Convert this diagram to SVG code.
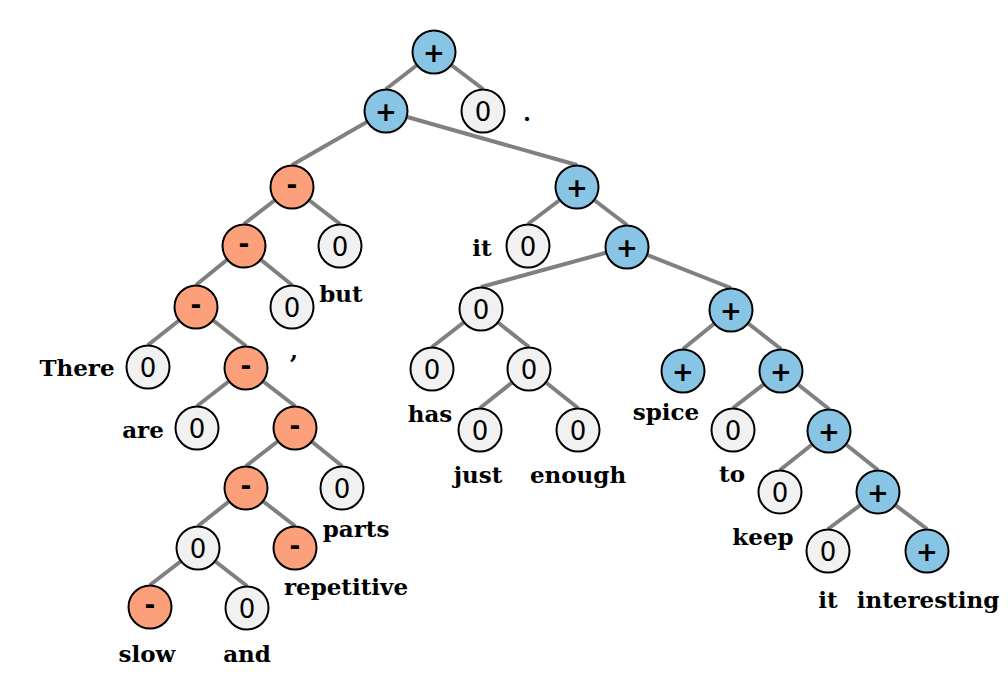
<svg xmlns="http://www.w3.org/2000/svg" width="1008" height="686" viewBox="0 0 1008 686">
<style>
.e{stroke:#808080;stroke-width:4;fill:none}
circle{stroke:#000;stroke-width:2}
.p circle{fill:#88c4e3}
.m circle{fill:#fba07b}
.z circle{fill:#f1f1f1}
.n{font-family:"DejaVu Sans",sans-serif;font-size:26px;text-anchor:middle;fill:#000}
.p .n,.m .n{font-weight:bold}
.w{font-family:"DejaVu Serif",serif;font-weight:bold;font-size:23px;text-anchor:middle;fill:#000}
</style>
<rect width="1008" height="686" fill="#fff"/>
<g id="edges">
<line class="e" x1="434" y1="52" x2="386" y2="89"/>
<line class="e" x1="434" y1="52" x2="483" y2="89"/>
<line class="e" x1="386" y1="111" x2="292" y2="165"/>
<line class="e" x1="386" y1="111" x2="577" y2="165"/>
<line class="e" x1="292" y1="187" x2="244" y2="224"/>
<line class="e" x1="292" y1="187" x2="340" y2="224"/>
<line class="e" x1="244" y1="246" x2="196" y2="285"/>
<line class="e" x1="244" y1="246" x2="292" y2="285"/>
<line class="e" x1="196" y1="307" x2="148" y2="345"/>
<line class="e" x1="196" y1="307" x2="246" y2="346"/>
<line class="e" x1="246" y1="368" x2="197" y2="406"/>
<line class="e" x1="246" y1="368" x2="295" y2="406"/>
<line class="e" x1="295" y1="428" x2="246" y2="466"/>
<line class="e" x1="295" y1="428" x2="342" y2="466"/>
<line class="e" x1="246" y1="488" x2="198" y2="526"/>
<line class="e" x1="246" y1="488" x2="295" y2="526"/>
<line class="e" x1="198" y1="548" x2="150" y2="585"/>
<line class="e" x1="198" y1="548" x2="247" y2="586"/>
<line class="e" x1="577" y1="187" x2="528" y2="224"/>
<line class="e" x1="577" y1="187" x2="627" y2="225"/>
<line class="e" x1="627" y1="247" x2="481" y2="287"/>
<line class="e" x1="627" y1="247" x2="731" y2="288"/>
<line class="e" x1="481" y1="309" x2="432" y2="347"/>
<line class="e" x1="481" y1="309" x2="529" y2="347"/>
<line class="e" x1="529" y1="369" x2="480" y2="408"/>
<line class="e" x1="529" y1="369" x2="578" y2="408"/>
<line class="e" x1="731" y1="310" x2="683" y2="349"/>
<line class="e" x1="731" y1="310" x2="781" y2="349"/>
<line class="e" x1="781" y1="371" x2="733" y2="408"/>
<line class="e" x1="781" y1="371" x2="829" y2="409"/>
<line class="e" x1="829" y1="431" x2="780" y2="470"/>
<line class="e" x1="829" y1="431" x2="878" y2="470"/>
<line class="e" x1="878" y1="492" x2="828" y2="529"/>
<line class="e" x1="878" y1="492" x2="927" y2="529"/>
</g>
<g id="n1" class="p"><circle cx="434" cy="52" r="21.5"/><text class="n" x="434" y="61.5">+</text></g>
<g id="n2" class="p"><circle cx="386" cy="111" r="21.5"/><text class="n" x="386" y="120.5">+</text></g>
<g id="n3" class="z"><circle cx="483" cy="111" r="21.5"/><text class="n" x="483" y="120.5">0</text></g>
<g id="n4" class="m"><circle cx="292" cy="187" r="21.5"/><text class="n" x="292" y="194">-</text></g>
<g id="n5" class="p"><circle cx="577" cy="187" r="21.5"/><text class="n" x="577" y="196.5">+</text></g>
<g id="n6" class="m"><circle cx="244" cy="246" r="21.5"/><text class="n" x="244" y="253">-</text></g>
<g id="n7" class="z"><circle cx="340" cy="246" r="21.5"/><text class="n" x="340" y="255.5">0</text></g>
<g id="n8" class="z"><circle cx="528" cy="246" r="21.5"/><text class="n" x="528" y="255.5">0</text></g>
<g id="n9" class="p"><circle cx="627" cy="247" r="21.5"/><text class="n" x="627" y="256.5">+</text></g>
<g id="n10" class="m"><circle cx="196" cy="307" r="21.5"/><text class="n" x="196" y="314">-</text></g>
<g id="n11" class="z"><circle cx="292" cy="307" r="21.5"/><text class="n" x="292" y="316.5">0</text></g>
<g id="n12" class="z"><circle cx="481" cy="309" r="21.5"/><text class="n" x="481" y="318.5">0</text></g>
<g id="n13" class="p"><circle cx="731" cy="310" r="21.5"/><text class="n" x="731" y="319.5">+</text></g>
<g id="n14" class="z"><circle cx="148" cy="367" r="21.5"/><text class="n" x="148" y="376.5">0</text></g>
<g id="n15" class="m"><circle cx="246" cy="368" r="21.5"/><text class="n" x="246" y="375">-</text></g>
<g id="n16" class="z"><circle cx="432" cy="369" r="21.5"/><text class="n" x="432" y="378.5">0</text></g>
<g id="n17" class="z"><circle cx="529" cy="369" r="21.5"/><text class="n" x="529" y="378.5">0</text></g>
<g id="n18" class="p"><circle cx="683" cy="371" r="21.5"/><text class="n" x="683" y="380.5">+</text></g>
<g id="n19" class="p"><circle cx="781" cy="371" r="21.5"/><text class="n" x="781" y="380.5">+</text></g>
<g id="n20" class="z"><circle cx="197" cy="428" r="21.5"/><text class="n" x="197" y="437.5">0</text></g>
<g id="n21" class="m"><circle cx="295" cy="428" r="21.5"/><text class="n" x="295" y="435">-</text></g>
<g id="n22" class="z"><circle cx="480" cy="430" r="21.5"/><text class="n" x="480" y="439.5">0</text></g>
<g id="n23" class="z"><circle cx="578" cy="430" r="21.5"/><text class="n" x="578" y="439.5">0</text></g>
<g id="n24" class="z"><circle cx="733" cy="430" r="21.5"/><text class="n" x="733" y="439.5">0</text></g>
<g id="n25" class="p"><circle cx="829" cy="431" r="21.5"/><text class="n" x="829" y="440.5">+</text></g>
<g id="n26" class="m"><circle cx="246" cy="488" r="21.5"/><text class="n" x="246" y="495">-</text></g>
<g id="n27" class="z"><circle cx="342" cy="488" r="21.5"/><text class="n" x="342" y="497.5">0</text></g>
<g id="n28" class="z"><circle cx="780" cy="492" r="21.5"/><text class="n" x="780" y="501.5">0</text></g>
<g id="n29" class="p"><circle cx="878" cy="492" r="21.5"/><text class="n" x="878" y="501.5">+</text></g>
<g id="n30" class="z"><circle cx="198" cy="548" r="21.5"/><text class="n" x="198" y="557.5">0</text></g>
<g id="n31" class="m"><circle cx="295" cy="548" r="21.5"/><text class="n" x="295" y="555">-</text></g>
<g id="n32" class="z"><circle cx="828" cy="551" r="21.5"/><text class="n" x="828" y="560.5">0</text></g>
<g id="n33" class="p"><circle cx="927" cy="551" r="21.5"/><text class="n" x="927" y="560.5">+</text></g>
<g id="n34" class="m"><circle cx="150" cy="607" r="21.5"/><text class="n" x="150" y="614">-</text></g>
<g id="n35" class="z"><circle cx="247" cy="608" r="21.5"/><text class="n" x="247" y="617.5">0</text></g>
<g id="labels">
<text class="w" x="527" y="121">.</text>
<text class="w" x="482" y="256">it</text>
<text class="w" x="341" y="302">but</text>
<text class="w" x="77" y="376">There</text>
<text class="w" x="294" y="359">,</text>
<text class="w" x="143" y="438">are</text>
<text class="w" x="430" y="422">has</text>
<text class="w" x="666" y="420">spice</text>
<text class="w" x="478" y="483">just</text>
<text class="w" x="578" y="483">enough</text>
<text class="w" x="732" y="482">to</text>
<text class="w" x="356" y="537">parts</text>
<text class="w" x="763" y="545">keep</text>
<text class="w" x="346" y="595">repetitive</text>
<text class="w" x="828" y="608">it</text>
<text class="w" x="928" y="608">interesting</text>
<text class="w" x="147" y="662">slow</text>
<text class="w" x="247" y="662">and</text>
</g>
</svg>
